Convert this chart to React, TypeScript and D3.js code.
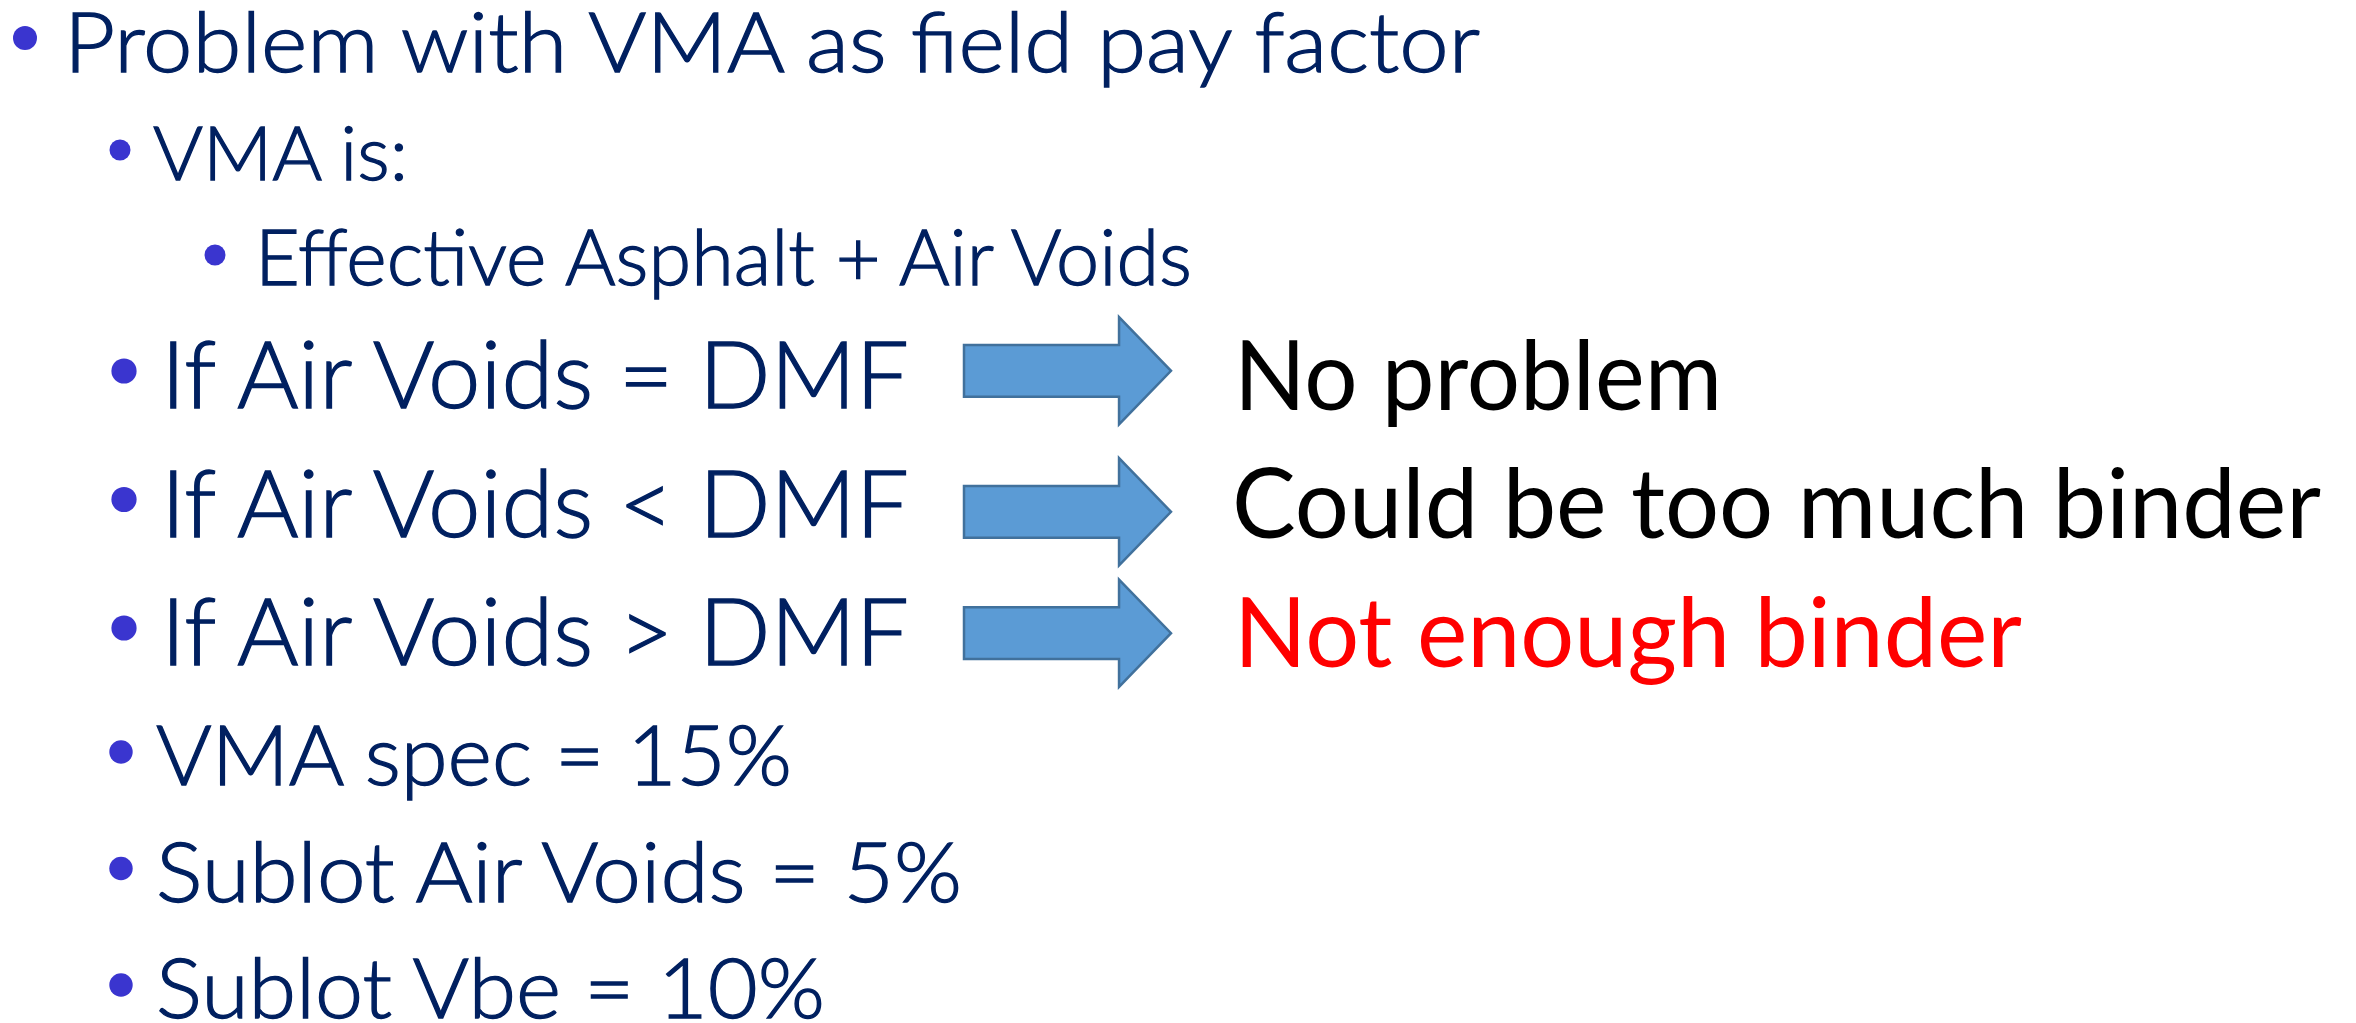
import { useEffect, useRef } from 'react';
import * as d3 from 'd3';

// Slide content
const bulletTexts = [
    'Problem with VMA as field pay factor',
    'VMA is:',
    'Effective Asphalt + Air Voids',
    'If Air Voids = DMF',
    'If Air Voids < DMF',
    'If Air Voids > DMF',
    'VMA spec = 15%',
    'Sublot Air Voids = 5%',
    'Sublot Vbe = 10%',
];
const bulletLevels = [0, 1, 2, 1, 1, 1, 1, 1, 1];
const outcomeTexts = ['No problem', 'Could be too much binder', 'Not enough binder'];
const outcomeRows = [3, 4, 5]; // index of the bullet each outcome belongs to
const outcomeAlert = [false, false, true];

// Layout measured from the slide (pixels)
const W = 2356;
const H = 1023;
const baselines = [72, 180, 285, 408, 537, 665, 785, 902, 1018];
const bulletCy = [38, 150, 255, 371, 499.5, 628, 752, 868.5, 985];
const textStart = [64, 153, 255, 161, 161, 161, 156, 156, 156];
const textEnd = [1480, 408, 1192, 909, 909, 909, 792, 962, 825];
const capHeights = [60, 54, 55, 66.5, 66.5, 66.5, 60, 60, 60];
const bulletCx = [25, 120, 215, 124, 124, 124, 121, 121, 121];
const bulletR = [12, 10.5, 10.5, 12.6, 12.6, 12.6, 11.7, 11.7, 11.7];
const arrowCy = [370.8, 511.8, 633.2];
const outcomeStart = [1234, 1232, 1234];
const outcomeEnd = [1722, 2321, 2022];
const outcomeBase = [410, 538, 667];

const CAP = 0.72; // cap height / em for Lato

export default function App() {
    const svgRef = useRef<SVGSVGElement>(null);

    useEffect(() => {
        if (!svgRef.current) return;
        const svg = d3.select(svgRef.current);
        svg.selectAll('*').remove();

        svg.append('rect').attr('width', W).attr('height', H).attr('fill', '#ffffff');

        const rows = bulletTexts.map((t, i) => ({ t, i, level: bulletLevels[i] }));

        // bullets
        svg.selectAll('.dot')
            .data(rows)
            .join('circle')
            .attr('class', 'dot')
            .attr('cx', d => bulletCx[d.i])
            .attr('cy', d => bulletCy[d.i])
            .attr('r', d => bulletR[d.i])
            .attr('fill', '#3a35cf');

        // bullet text (light weight, thickened a touch to look like Calibri Light)
        svg.selectAll('.line')
            .data(rows)
            .join('text')
            .attr('class', 'line')
            .attr('x', d => textStart[d.i])
            .attr('y', d => baselines[d.i])
            .attr('font-family', 'Lato, "Open Sans", sans-serif')
            .attr('font-weight', 300)
            .attr('font-size', d => capHeights[d.i] / CAP)
            .attr('fill', '#002060')
            .attr('stroke', '#002060')
            .attr('stroke-width', 1.3)
            .attr('textLength', d => textEnd[d.i] - textStart[d.i])
            .attr('lengthAdjust', 'spacingAndGlyphs')
            .text(d => d.t);

        // block arrows
        const ax = d3.scaleLinear().domain([0, 1]).range([964, 1171]); // tail -> tip
        const headBase = 0.749;
        const shaftHalf = 25.85;
        const headHalf = 53.6;
        const arrowPath = (cy: number) => {
            const p = d3.path();
            p.moveTo(ax(0), cy - shaftHalf);
            p.lineTo(ax(headBase), cy - shaftHalf);
            p.lineTo(ax(headBase), cy - headHalf);
            p.lineTo(ax(1), cy);
            p.lineTo(ax(headBase), cy + headHalf);
            p.lineTo(ax(headBase), cy + shaftHalf);
            p.lineTo(ax(0), cy + shaftHalf);
            p.closePath();
            return p.toString();
        };
        svg.selectAll('.arrow')
            .data(arrowCy)
            .join('path')
            .attr('class', 'arrow')
            .attr('d', d => arrowPath(d))
            .attr('fill', '#5b9bd5')
            .attr('stroke', '#41719c')
            .attr('stroke-width', 2.5);

        // outcomes
        const outs = outcomeTexts.map((t, i) => ({ t, i, row: outcomeRows[i], alert: outcomeAlert[i] }));
        svg.selectAll('.out')
            .data(outs)
            .join('text')
            .attr('class', 'out')
            .attr('x', d => outcomeStart[d.i])
            .attr('y', d => outcomeBase[d.i])
            .attr('font-family', 'Lato, "Open Sans", sans-serif')
            .attr('font-weight', 400)
            .attr('font-size', 70 / CAP)
            .attr('fill', d => (d.alert ? '#ff0000' : '#000000'))
            .attr('textLength', d => outcomeEnd[d.i] - outcomeStart[d.i])
            .attr('lengthAdjust', 'spacingAndGlyphs')
            .text(d => d.t);
    }, []);

    return (
        <svg
            ref={svgRef}
            width={W}
            height={H}
            style={{ position: 'absolute', left: 0, top: 0, display: 'block' }}
        />
    );
}
